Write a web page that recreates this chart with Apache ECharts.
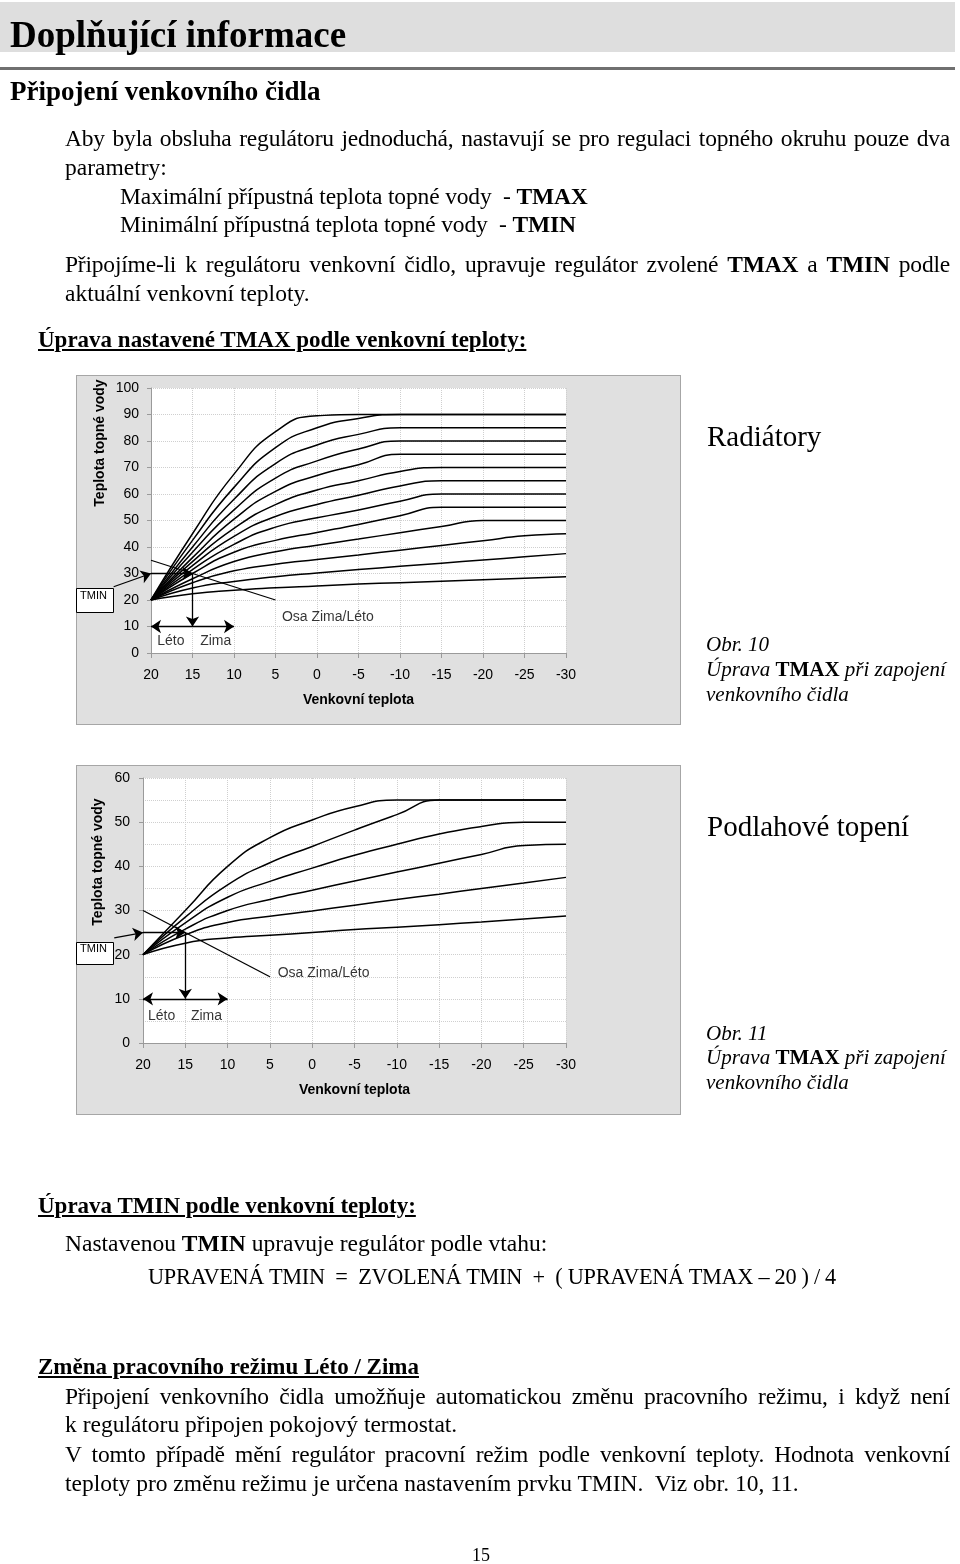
<!DOCTYPE html>
<html lang="cs">
<head>
<meta charset="utf-8">
<title>Doplňující informace – venkovní čidlo</title>
<script src="https://cdn.jsdelivr.net/npm/echarts@6/dist/echarts.min.js"></script>
<style>
  html, body { margin: 0; padding: 0; background: #fff; }
  #page { position: relative; width: 960px; height: 1564px; overflow: hidden;
          font-family: 'Liberation Serif', 'Times New Roman', serif; color: #000; }
  .box { position: absolute; background: #e0e0e0; border: 1px solid #a6a6a6; box-sizing: border-box; }
  #chart { position: absolute; left: 0; top: 0; width: 960px; height: 1564px; }
  .ln { position: absolute; white-space: nowrap; line-height: 1; font-size: 23.5px; }
  .just { width: 885px; white-space: normal; text-align: justify; text-align-last: justify; letter-spacing: -0.2px; }
  .hd { font-weight: bold; text-decoration: underline; font-size: 23px; }
  .cap { font-size: 21px; font-style: italic; }
  .cap b { font-style: normal; }
</style>
</head>
<body>
<div id="page">
  <div style="position:absolute;left:0;top:2px;width:955px;height:50px;background:#dedede"></div>
  <div style="position:absolute;left:0;top:67px;width:955px;height:3px;background:#707070"></div>
  <div class="box" style="left:76px;top:375px;width:605px;height:350px"></div>
  <div class="box" style="left:76px;top:765px;width:605px;height:350px"></div>
  <div id="chart"></div>

  <div class="ln" style="left:10px;top:15.5px;font-size:37px;font-weight:bold">Doplňující informace</div>
  <div class="ln" style="left:10px;top:77.5px;font-size:27px;font-weight:bold">Připojení venkovního čidla</div>
  <div class="ln just" style="left:65px;top:127.3px">Aby byla obsluha regulátoru jednoduchá, nastavují se pro regulaci topného okruhu pouze dva</div>
  <div class="ln" style="left:65px;top:156.3px">parametry:</div>
  <div class="ln" style="left:120px;top:185.3px;letter-spacing:-0.15px">Maximální přípustná teplota topné vody&nbsp; - <b>TMAX</b></div>
  <div class="ln" style="left:120px;top:213.3px;letter-spacing:-0.15px">Minimální přípustná teplota topné vody&nbsp; - <b>TMIN</b></div>
  <div class="ln just" style="left:65px;top:253.3px">Připojíme-li k regulátoru venkovní čidlo, upravuje regulátor zvolené <b>TMAX</b> a <b>TMIN</b> podle</div>
  <div class="ln" style="left:65px;top:282.3px">aktuální venkovní teploty.</div>
  <div class="ln hd" style="left:38px;top:327.7px">Úprava nastavené TMAX podle venkovní teploty:</div>

  <div class="ln" style="left:707px;top:421.7px;font-size:29px">Radiátory</div>
  <div class="ln cap" style="left:706px;top:634.4px">Obr. 10</div>
  <div class="ln cap" style="left:706px;top:659.4px">Úprava <b>TMAX</b> při zapojení</div>
  <div class="ln cap" style="left:706px;top:684.4px">venkovního čidla</div>

  <div class="ln" style="left:707px;top:811.7px;font-size:29px">Podlahové topení</div>
  <div class="ln cap" style="left:706px;top:1023.4px">Obr. 11</div>
  <div class="ln cap" style="left:706px;top:1047.4px">Úprava <b>TMAX</b> při zapojení</div>
  <div class="ln cap" style="left:706px;top:1072.4px">venkovního čidla</div>

  <div class="ln hd" style="left:38px;top:1193.7px">Úprava TMIN podle venkovní teploty:</div>
  <div class="ln" style="left:65px;top:1232.3px">Nastavenou <b>TMIN</b> upravuje regulátor podle vtahu:</div>
  <div class="ln" style="left:148px;top:1266px;font-size:22.3px;letter-spacing:-0.3px">UPRAVENÁ TMIN&nbsp; = &nbsp;ZVOLENÁ TMIN&nbsp; + &nbsp;( UPRAVENÁ TMAX – 20 ) / 4</div>
  <div class="ln hd" style="left:38px;top:1354.7px">Změna pracovního režimu Léto / Zima</div>
  <div class="ln just" style="left:65px;top:1385.3px">Připojení venkovního čidla umožňuje automatickou změnu pracovního režimu, i když není</div>
  <div class="ln" style="left:65px;top:1413.3px">k regulátoru připojen pokojový termostat.</div>
  <div class="ln just" style="left:65px;top:1443.3px">V tomto případě mění regulátor pracovní režim podle venkovní teploty. Hodnota venkovní</div>
  <div class="ln" style="left:65px;top:1472.3px">teploty pro změnu režimu je určena nastavením prvku TMIN.&nbsp; Viz obr. 10, 11.</div>
  <div class="ln" style="left:472px;top:1546px;font-size:18px">15</div>
</div>

<script>
// venkovní teplota (osa x)
var outdoorT = [20, 15, 10, 5, 0, -5, -10, -15, -20, -25, -30];

// Radiátory - teplota topné vody, jedna řada na křivku
var radiatorCurves = [
  [20, 45, 67.5, 83.5, 89.5, 90, 90, 90, 90, 90, 90],
  [20, 42.5, 62.5, 77.5, 85, 88.5, 90, 90, 90, 90, 90],
  [20, 40, 58, 71.5, 78.5, 82.5, 85, 85, 85, 85, 85],
  [20, 38, 54, 66, 72.5, 77, 80, 80, 80, 80, 80],
  [20, 36, 50.5, 61, 67, 71, 75, 75, 75, 75, 75],
  [20, 34.5, 47, 56, 61.5, 65, 68.5, 70, 70, 70, 70],
  [20, 33, 44, 51.5, 56, 59.5, 63, 65, 65, 65, 65],
  [20, 31.5, 41, 47.5, 51, 54, 57.3, 60, 60, 60, 60],
  [20, 30, 38, 42.5, 45.5, 48.5, 51.8, 55, 55, 55, 55],
  [20, 28, 34.5, 38.2, 40.7, 43, 45.4, 47.7, 50, 50, 50],
  [20, 26.5, 31, 33.5, 35.3, 37, 38.8, 40.6, 42.4, 44.2, 45],
  [20, 24.5, 27, 28.8, 30.2, 31.5, 32.7, 33.9, 35.1, 36.3, 37.5],
  [20, 22.4, 23.7, 24.6, 25.3, 26, 26.55, 27.1, 27.65, 28.2, 28.75]
];

// Podlahové topení
var floorCurves = [
  [20, 30, 40, 46.5, 50.5, 53.5, 55, 55, 55, 55, 55],
  [20, 28.5, 35.8, 40.8, 44.5, 48.2, 51.7, 55, 55, 55, 55],
  [20, 27.2, 33, 36.6, 39.6, 42.5, 45, 47.3, 49, 50, 50],
  [20, 25.8, 30, 32.5, 34.6, 36.7, 38.7, 40.7, 42.7, 44.7, 45],
  [20, 24.5, 27.3, 28.7, 29.9, 31.2, 32.5, 33.7, 35, 36.2, 37.5],
  [20, 22.6, 23.8, 24.4, 25, 25.7, 26.2, 26.8, 27.4, 28.1, 28.75]
];

// pomocne cary v grafech (osa zima/leto, TMIN, sipky)
var radOsa = [[20, 35], [5, 20]];
var radTminPointer = [[24.5, 25], [20, 30]];
var radTminLine = [[20, 30], [15, 30]];
var radDrop = [[15, 30], [15, 10]];
var radSeason = [[20, 10], [10, 10]];
var radLabels = [
  { name: 'Léto', value: [17.6, 4.6] },
  { name: 'Zima', value: [12.2, 4.6] },
  { name: 'Osa Zima/Léto', value: [-1.3, 13.6] }
];

var floorOsa = [[20, 30], [5, 15]];
var floorTminPointer = [[23.4, 23.8], [20, 25]];
var floorTminLine = [[20, 25], [15, 25]];
var floorDrop = [[15, 25], [15, 10]];
var floorSeason = [[20, 10], [10, 10]];
var floorLabels = [
  { name: 'Léto', value: [17.8, 6] },
  { name: 'Zima', value: [12.5, 6] },
  { name: 'Osa Zima/Léto', value: [-1.35, 15.8] }
];

var SANS = 'Liberation Sans';

var myChart = echarts.init(document.getElementById('chart'), null, { renderer: 'canvas' });

function curveSeries(curves, idx) {
  return curves.map(function (vals) {
    return {
      type: 'line',
      xAxisIndex: idx,
      yAxisIndex: idx,
      data: outdoorT.map(function (t, i) { return [t, vals[i]]; }),
      smooth: 0.55,
      showSymbol: false,
      silent: true,
      lineStyle: { color: '#000', width: 1.5 },
      z: 3
    };
  });
}

function arrows(idx, list, symbol, clip) {
  return {
    type: 'lines',
    coordinateSystem: 'cartesian2d',
    xAxisIndex: idx,
    yAxisIndex: idx,
    polyline: false,
    clip: clip,
    silent: true,
    symbol: symbol,
    symbolSize: 10,
    lineStyle: { color: '#000', width: 1.3, opacity: 1, curveness: 0 },
    data: list.map(function (c) { return { coords: c }; }),
    z: 4
  };
}

function labelSeries(idx, data) {
  return {
    type: 'scatter',
    xAxisIndex: idx,
    yAxisIndex: idx,
    symbolSize: 1,
    silent: true,
    itemStyle: { color: 'rgba(0,0,0,0)' },
    label: { show: true, position: 'inside', formatter: '{b}', color: '#000', textBorderWidth: 0,
             fontFamily: SANS, fontSize: 14 },
    data: data,
    z: 5
  };
}

function xAxisFor(idx) {
  return {
    type: 'value', gridIndex: idx, min: -30, max: 20, interval: 5, inverse: true,
    name: 'Venkovní teplota', nameLocation: 'middle', nameGap: 40,
    nameTextStyle: { fontFamily: SANS, fontWeight: 'bold', fontSize: 14, color: '#000' },
    axisLine: { onZero: false, lineStyle: { color: '#9a9a9a' } },
    axisTick: { show: true, length: 5, lineStyle: { color: '#9a9a9a' } },
    axisLabel: { margin: 15, fontFamily: SANS, fontSize: 14, color: '#000' },
    splitLine: { show: true, lineStyle: { color: '#cfcfcf', type: 'dotted' } }
  };
}

function yAxisFor(idx, max, minor) {
  return {
    type: 'value', gridIndex: idx, min: 0, max: max, interval: 10,
    axisLine: { show: true, onZero: false, lineStyle: { color: '#9a9a9a' } },
    axisTick: { show: true, length: 4, lineStyle: { color: '#9a9a9a' } },
    axisLabel: { margin: idx === 0 ? 12 : 13, fontFamily: SANS, fontSize: 14, color: '#000' },
    splitLine: { show: true, lineStyle: { color: '#cfcfcf', type: 'dotted' } },
    minorTick: { show: false, splitNumber: 2 },
    minorSplitLine: { show: minor, lineStyle: { color: '#cfcfcf', type: 'dotted' } }
  };
}

var series = []
  .concat(curveSeries(radiatorCurves, 0))
  .concat(curveSeries(floorCurves, 1))
  .concat([
    arrows(0, [radOsa], ['none', 'none'], true),
    arrows(0, [radTminLine, radDrop], ['none', 'arrow'], true),
    arrows(0, [radTminPointer], ['none', 'arrow'], false),
    arrows(0, [radSeason], ['arrow', 'arrow'], true),
    labelSeries(0, radLabels),
    arrows(1, [floorOsa], ['none', 'none'], true),
    arrows(1, [floorTminLine, floorDrop], ['none', 'arrow'], true),
    arrows(1, [floorTminPointer], ['none', 'arrow'], false),
    arrows(1, [floorSeason], ['arrow', 'arrow'], true),
    labelSeries(1, floorLabels)
  ]);

option = {
  animation: false,
  backgroundColor: 'transparent',
  grid: [
    { left: 151, top: 388, width: 415, height: 265, show: true, backgroundColor: '#fff', borderWidth: 0 },
    { left: 143, top: 778, width: 423, height: 265, show: true, backgroundColor: '#fff', borderWidth: 0 }
  ],
  xAxis: [xAxisFor(0), xAxisFor(1)],
  yAxis: [yAxisFor(0, 100, false), yAxisFor(1, 60, true)],
  graphic: [
    { type: 'text', x: 100, y: 443, rotation: Math.PI / 2,
      style: { text: 'Teplota topné vody', font: 'bold 14px "Liberation Sans"', fill: '#000', align: 'center', verticalAlign: 'middle' } },
    { type: 'text', x: 98, y: 862, rotation: Math.PI / 2,
      style: { text: 'Teplota topné vody', font: 'bold 14px "Liberation Sans"', fill: '#000', align: 'center', verticalAlign: 'middle' } },
    { type: 'rect', shape: { x: 76.5, y: 588.5, width: 37, height: 24 },
      style: { fill: '#fff', stroke: '#000', lineWidth: 1 } },
    { type: 'text', x: 80, y: 596,
      style: { text: 'TMIN', font: '11px "Liberation Sans"', fill: '#000', verticalAlign: 'middle' } },
    { type: 'rect', shape: { x: 76.5, y: 942.5, width: 37, height: 22 },
      style: { fill: '#fff', stroke: '#000', lineWidth: 1 } },
    { type: 'text', x: 80, y: 949,
      style: { text: 'TMIN', font: '11px "Liberation Sans"', fill: '#000', verticalAlign: 'middle' } }
  ],
  series: series
};

myChart.setOption(option);
window.addEventListener('resize', function () {
  myChart.resize();
});
</script>
</body>
</html>
